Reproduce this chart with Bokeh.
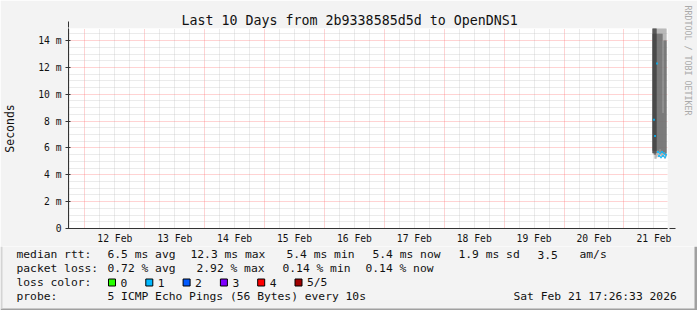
import pandas as pd
from bokeh.plotting import figure
from bokeh.layouts import column
from bokeh.models import (Range1d, FixedTicker, Arrow, NormalHead, ColumnDataSource, Title)
from bokeh.core.properties import value
from bokeh.embed import file_html
from bokeh.resources import INLINE

# ---------------- data ----------------
title_text = "Last 10 Days from 2b9338585d5d to OpenDNS1"
range_start = "2026-02-11 17:26:33"
range_end = "2026-02-21 17:26:33"
y_top = 14.9  # ms

day_dates = ["2026-02-12", "2026-02-13", "2026-02-14", "2026-02-15", "2026-02-16",
             "2026-02-17", "2026-02-18", "2026-02-19", "2026-02-20", "2026-02-21"]
day_labels = ["12 Feb", "13 Feb", "14 Feb", "15 Feb", "16 Feb",
              "17 Feb", "18 Feb", "19 Feb", "20 Feb", "21 Feb"]

y_ticks = [0, 2, 4, 6, 8, 10, 12, 14]
y_tick_labels = ["0", "2 m", "4 m", "6 m", "8 m", "10 m", "12 m", "14 m"]

sample_times = ["2026-02-21 11:26:33", "2026-02-21 11:50:33", "2026-02-21 12:14:33",
                "2026-02-21 12:38:33", "2026-02-21 13:02:33", "2026-02-21 13:26:33",
                "2026-02-21 13:50:33", "2026-02-21 14:14:33", "2026-02-21 14:38:33",
                "2026-02-21 15:02:33", "2026-02-21 15:26:33", "2026-02-21 15:50:33",
                "2026-02-21 16:14:33", "2026-02-21 16:38:33"]
step_minutes = 24

nan = float("nan")
smoke_outer_lo = [5.6, 5.5, 5.2, 5.2, 5.3, 5.5, 5.3, 5.5, 5.3, 5.4, 5.3, 5.5, 5.2, 5.3]
smoke_outer_hi = [18.0, 18.0, 18.0, 18.0, 18.0, 18.0, 18.0, 18.0, 18.0, 18.0, 18.0, 18.0, 18.0, 18.0]
smoke_mid_lo = [5.8, 5.8, 5.8, 5.8, 5.8, 5.8, 5.7, 5.9, 5.6, 5.8, 5.6, 5.7, 5.5, 5.6]
smoke_mid_hi = [14.5, 14.5, 14.5, 14.5, 14.5, 14.5, 14.5, 14.5, 14.5, 14.5, 8.6, 14.0, 14.0, 14.0]
smoke_core_lo = [5.6, 5.6, 5.5, 5.6, nan, nan, nan, nan, nan, nan, nan, nan, nan, nan]
smoke_core_hi = [18.0, 18.0, 18.0, 18.0, nan, nan, nan, nan, nan, nan, nan, nan, nan, nan]
median_rtt = [nan, 8.1, 6.9, nan, 12.3, 5.7, 5.4, 5.6, 5.3, 5.7, 5.4, 5.6, 5.3, 5.5]

loss_levels = ["0", "1", "2", "3", "4", "5/5"]
loss_colors = ["#26ff00", "#00b8ff", "#0059ff", "#7e00ff", "#ff0000", "#a00000"]

rtt_stats = ["6.5 ms avg", "12.3 ms max", "5.4 ms min", "5.4 ms now", "1.9 ms sd", "3.5", "am/s"]
loss_stats = ["0.72 % avg", "2.92 % max", "0.14 % min", "0.14 % now"]
probe_text = "5 ICMP Echo Pings (56 Bytes) every 10s"
stamp_text = "Sat Feb 21 17:26:33 2026"
watermark = "RRDTOOL / TOBI OETIKER"

# ---------------- helpers ----------------
def to_ms(s):
    return pd.Timestamp(s).value / 1e6

MONO = "DejaVu Sans Mono"
BG = "#f3f3f3"
W = 697
FL, FT, FW, FH = 67, 28, 600, 200
FB = FT + FH
H1 = 246  # height of the chart part; legend below

x0 = to_ms(range_start)
x1 = to_ms(range_end)
step_ms = step_minutes * 60 * 1000

t = [to_ms(s) for s in sample_times]
src = ColumnDataSource(dict(
    left=t, right=[v + step_ms for v in t],
    olo=smoke_outer_lo, ohi=smoke_outer_hi,
    mlo=smoke_mid_lo, mhi=smoke_mid_hi,
    clo=smoke_core_lo, chi=smoke_core_hi,
    med=median_rtt,
    ml=[v - step_ms * 0.3 for v in t], mr=[v + step_ms * 1.3 for v in t],
))

p = figure(width=W, height=H1, x_range=Range1d(x0, x1), y_range=Range1d(0, y_top),
           toolbar_location=None, output_backend="svg",
           min_border_left=FL, min_border_right=W - FL - FW,
           min_border_top=FT, min_border_bottom=H1 - FB,
           background_fill_color="white", border_fill_color=BG,
           outline_line_color=None)
p.frame_align = False

p.title.text = title_text
p.title.align = "left"
p.title.offset = 113
p.title.text_font = MONO
p.title.text_font_size = "13.3px"
p.title.text_font_style = "normal"
p.title.text_color = "#111111"
p.title.standoff = 2

# grids
midnights = [to_ms(d) for d in day_dates]
six_hours = [m + h * 3600000 for m in [to_ms("2026-02-11")] + midnights for h in (6, 12, 18)]
p.xgrid.ticker = FixedTicker(ticks=midnights, minor_ticks=six_hours)
p.ygrid.ticker = FixedTicker(ticks=y_ticks[1:],
                             minor_ticks=[v / 2 for v in range(1, 30) if v % 4 != 0])
for g in (p.xgrid, p.ygrid):
    g.grid_line_color = "#ff6a6a"
    g.grid_line_alpha = 0.6
    g.grid_line_dash = "1 1"
    g.minor_grid_line_color = "#bdbdbd"
    g.minor_grid_line_alpha = 0.6
    g.minor_grid_line_dash = "1 1"

# axes
noons = [to_ms(d) + 12 * 3600000 for d in day_dates]
xa = p.xaxis[0]
xa.ticker = FixedTicker(ticks=noons, minor_ticks=[])
xa.major_label_overrides = {k: v for k, v in zip(noons, day_labels)}
xa.major_tick_out = 0
xa.major_tick_in = 0
xa.minor_tick_out = 0
xa.minor_tick_in = 0
xa.major_label_standoff = 4
ya = p.yaxis[0]
ya.ticker = FixedTicker(ticks=y_ticks, minor_ticks=[])
ya.major_label_overrides = {k: v for k, v in zip(y_ticks, y_tick_labels)}
ya.major_tick_out = 3
ya.major_tick_in = 2
ya.minor_tick_out = 0
ya.minor_tick_in = 0
ya.major_label_standoff = 4
ya.axis_label = "Seconds"
ya.axis_label_text_font = MONO
ya.axis_label_text_font_size = "11.5px"
ya.axis_label_text_font_style = "normal"
ya.axis_label_text_color = "#111111"
ya.axis_label_standoff = 18
for a in (xa, ya):
    a.axis_line_color = "#333333"
    a.major_tick_line_color = "#333333"
    a.major_label_text_font = MONO
    a.major_label_text_font_size = "9.7px"
    a.major_label_text_color = "#111111"

# watermark on the right side (reads top to bottom); a thin blank panel pushes it outward
p.add_layout(Title(text="\u00a0", text_font_size="1px", standoff=7), "right")
p.add_layout(Title(text=watermark, align="left", offset=-23, vertical_align="top",
                   standoff=6, text_font=MONO, text_font_size="8.3px",
                   text_font_style="normal", text_color="#aaaaaa"), "right")

# smoke
p.quad(left="left", right="right", bottom="olo", top="ohi", source=src,
       fill_color="#a2a2a2", line_color=None)
p.quad(left="left", right="right", bottom="mlo", top="mhi", source=src,
       fill_color="#666666", line_color=None)
p.quad(left="left", right="right", bottom="clo", top="chi", source=src,
       fill_color="#3a3a3a", line_color=None)
p.segment(x0="ml", x1="mr", y0="med", y1="med", source=src,
          line_color=loss_colors[1], line_width=2)

# axis arrows
p.add_layout(Arrow(x_start=0, y_start=FH - 2, x_end=0, y_end=FH + 7,
                   start_units="screen", end_units="screen", line_color="#333333",
                   end=NormalHead(size=6, fill_color="#8b1010", line_color="#8b1010")))
p.add_layout(Arrow(x_start=FW - 2, y_start=0, x_end=FW + 7, y_end=0,
                   start_units="screen", end_units="screen", line_color="#333333",
                   end=NormalHead(size=6, fill_color="#8b1010", line_color="#8b1010")))

# canvas edge shading of the chart part (screen units relative to the frame)
def edge_line(xs, ys, xe, ye, col, w):
    p.add_layout(Arrow(x_start=xs, y_start=ys, x_end=xe, y_end=ye, end=None,
                       start_units="screen", end_units="screen",
                       line_color=col, line_width=w))
edge_line(-FL, FB - 1, W - FL, FB - 1, "#d4d4d4", 2)          # top
edge_line(-FL + 1, FB, -FL + 1, FB - H1, "#d4d4d4", 2)        # left
edge_line(W - FL - 1.5, FB, W - FL - 1.5, FB - H1, "#a0a0a0", 3)  # right

# ---------------- legend panel ----------------
H2 = 310 - H1
q = figure(width=W, height=H2, x_range=Range1d(0, W), y_range=Range1d(310, H1),
           toolbar_location=None, output_backend="svg",
           min_border_left=0, min_border_right=0, min_border_top=0, min_border_bottom=0,
           background_fill_color=BG, border_fill_color=BG, outline_line_color=None)
q.frame_align = False
q.axis.visible = False
q.grid.visible = False

items_x, items_y, items_t = [], [], []
def add(txt, x, y):
    items_x.append(x); items_y.append(y); items_t.append(txt)

add("median rtt:", 16, 254)
for txt, x in zip(rtt_stats, [107, 190, 286, 372, 458, 537, 579]):
    add(txt, x, 254)
add("packet loss:", 16, 268)
for txt, x in zip(loss_stats, [107, 196, 282, 365]):
    add(txt, x, 268)
add("loss color:", 16, 282)
box_x = []
for i, lvl in enumerate(loss_levels):
    bx = 108 + i * 37.3
    box_x.append(bx + 3.5)
    add(lvl, bx + 12, 282)
add("probe:", 16, 296)
add(probe_text, 107, 296)
add(stamp_text, 513, 296)

q.text(x=items_x, y=items_y, text=items_t, text_font=value(MONO),
       text_font_size=value("11.3px"), text_baseline="middle", text_align="left",
       text_color="#111111")
q.rect(x=box_x, y=[282] * len(box_x), width=7, height=7, fill_color=loss_colors,
       line_color="#000000", line_width=1)

# canvas edge shading of the legend part
q.quad(left=[0], right=[W], top=[308], bottom=[310], fill_color="#a0a0a0", line_color=None)
q.quad(left=[694], right=[W], top=[H1], bottom=[310], fill_color="#a0a0a0", line_color=None)
q.quad(left=[0], right=[2], top=[H1], bottom=[308], fill_color="#d4d4d4", line_color=None)

layout = column(p, q, spacing=0)
open("out.html", "w").write(file_html(layout, INLINE))
